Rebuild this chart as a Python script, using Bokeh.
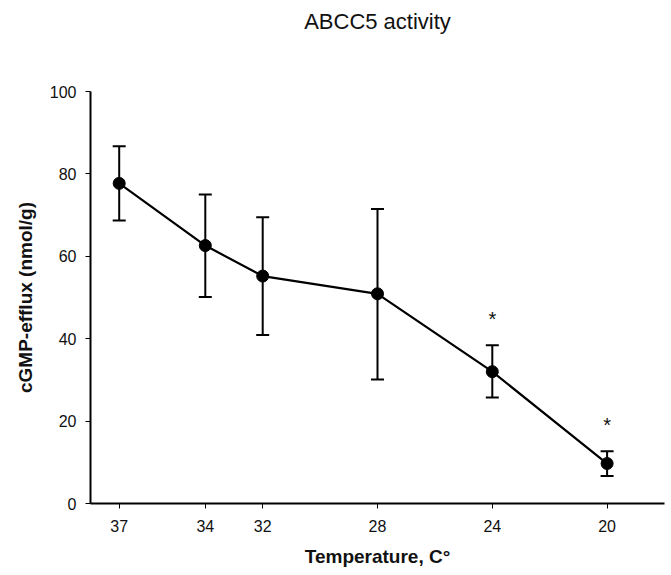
from bokeh.plotting import figure
from bokeh.models import Range1d, FixedTicker, ColumnDataSource, Whisker, TeeHead, Title
from bokeh.core.properties import value
from bokeh.embed import file_html
from bokeh.resources import INLINE

# ---- data ----
temperature = [37, 34, 32, 28, 24, 20]
efflux_mean = [77.7, 62.6, 55.2, 50.9, 32.0, 9.7]
efflux_upper = [86.7, 75.0, 69.5, 71.5, 38.4, 12.7]
efflux_lower = [68.7, 50.1, 40.9, 30.1, 25.7, 6.7]
significant = [False, False, False, False, True, True]
y_ticks = [0, 20, 40, 60, 80, 100]
title_text = "ABCC5 activity"

FONT = "Liberation Sans"
TXT = "#111111"

p = figure(width=665, height=572, x_range=Range1d(38, 18), y_range=Range1d(0, 100),
           output_backend="svg", toolbar_location=None,
           min_border_left=90, min_border_right=1, min_border_top=91, min_border_bottom=69)
p.title = None

p.outline_line_color = None
p.xgrid.visible = False
p.ygrid.visible = False
p.background_fill_color = "white"
p.border_fill_color = "white"

# spacer between frame and title, then the title itself (stacked outward)
p.add_layout(Title(text=" ", text_font_size="1px", standoff=55), "above")
p.add_layout(Title(text=title_text, align="center", text_font=FONT, text_font_size="22px",
                   text_font_style="normal", text_color=TXT, standoff=0), "above")

for ax in (p.xaxis[0], p.yaxis[0]):
    ax.axis_line_width = 2
    ax.axis_line_color = "black"
    ax.major_tick_out = 5
    ax.major_tick_in = 0
    ax.major_tick_line_width = 1
    ax.major_tick_line_color = "black"
    ax.minor_tick_line_color = None
    ax.major_label_text_font = FONT
    ax.major_label_text_font_size = "16px"
    ax.major_label_text_color = TXT
    ax.axis_label_text_font = FONT
    ax.axis_label_text_font_size = "19px"
    ax.axis_label_text_font_style = "bold"
    ax.axis_label_text_color = TXT

p.xaxis.ticker = FixedTicker(ticks=temperature)
p.yaxis.ticker = FixedTicker(ticks=y_ticks)
p.xaxis.axis_label = "Temperature, C°"
p.yaxis.axis_label = "cGMP-efflux (nmol/g)"
p.xaxis.major_label_standoff = 11
p.xaxis.axis_label_standoff = 11
p.yaxis.major_label_standoff = 9
p.yaxis.axis_label_standoff = 11

src = ColumnDataSource(dict(x=temperature, y=efflux_mean, up=efflux_upper, lo=efflux_lower))

whisker = Whisker(source=src, base="x", upper="up", lower="lo",
                  line_color="black", line_width=2,
                  upper_head=TeeHead(size=13, line_width=2, line_color="black"),
                  lower_head=TeeHead(size=13, line_width=2, line_color="black"))
p.add_layout(whisker)

p.line("x", "y", source=src, line_color="black", line_width=2.2)
p.scatter("x", "y", source=src, size=12, fill_color="black", line_color="black")

sig_src = ColumnDataSource(dict(
    x=[t for t, s in zip(temperature, significant) if s],
    y=[u for u, s in zip(efflux_upper, significant) if s],
))
p.text("x", "y", text=value("*"), source=sig_src, text_font=value(FONT),
       text_font_size="20px", text_align="center", text_baseline="alphabetic",
       y_offset=-26, text_color=TXT)

open("out.html", "w").write(file_html(p, INLINE))
